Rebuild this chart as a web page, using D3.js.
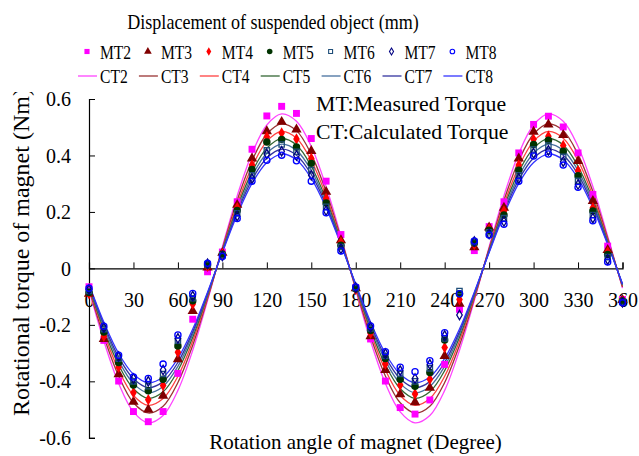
<!DOCTYPE html>
<html>
<head>
<meta charset="utf-8">
<script src="https://cdn.jsdelivr.net/npm/d3@7"></script>
<style>
body{margin:0;background:#fff;}
svg text{font-family:"Liberation Serif","Times New Roman",serif;fill:#000;}
</style>
</head>
<body>
<script>
// angles (degree) measured every 10 degrees
var angles = [0,10,20,30,40,50,60,70,80,90,100,110,120,130,140,150,160,170,180,190,200,210,220,230,240,250,260,270,280,290,300,310,320,330,340,350,360];

// measured torque (Nm)
var MT2 = [-0.065,-0.255,-0.399,-0.507,-0.543,-0.507,-0.372,-0.18,-0.012,0.058,0.236,0.422,0.540,0.574,0.549,0.46,0.309,0.12,-0.068,-0.25,-0.399,-0.493,-0.516,-0.466,-0.34,-0.145,0.063,0.148,0.236,0.409,0.51,0.539,0.501,0.409,0.262,0.079,-0.11];
var MT3 = [-0.09,-0.25,-0.375,-0.472,-0.50,-0.451,-0.322,-0.151,0.003,0.055,0.225,0.389,0.486,0.519,0.492,0.416,0.271,0.10,-0.07,-0.24,-0.36,-0.446,-0.474,-0.423,-0.31,-0.125,0.075,0.145,0.215,0.389,0.484,0.51,0.472,0.38,0.239,0.065,-0.112];
var MT4 = [-0.09,-0.24,-0.35,-0.44,-0.465,-0.415,-0.297,-0.126,0.008,0.052,0.215,0.366,0.466,0.48,0.458,0.389,0.248,0.093,-0.075,-0.23,-0.339,-0.413,-0.445,-0.393,-0.28,-0.11,0.085,0.14,0.203,0.366,0.457,0.468,0.435,0.346,0.215,0.058,-0.115];
var MT5 = [-0.085,-0.225,-0.333,-0.413,-0.433,-0.393,-0.275,-0.115,0.012,0.05,0.205,0.35,0.448,0.457,0.43,0.372,0.232,0.082,-0.072,-0.22,-0.319,-0.393,-0.417,-0.369,-0.254,-0.09,0.09,0.135,0.189,0.348,0.439,0.454,0.415,0.328,0.203,0.049,-0.115];
var MT6 = [-0.08,-0.215,-0.32,-0.40,-0.417,-0.374,-0.256,-0.106,0.014,0.047,0.195,0.33,0.418,0.439,0.413,0.348,0.218,0.076,-0.07,-0.213,-0.31,-0.374,-0.40,-0.354,-0.248,-0.08,0.093,0.128,0.178,0.33,0.421,0.435,0.395,0.31,0.189,0.04,-0.118];
var MT7 = [-0.075,-0.21,-0.312,-0.39,-0.40,-0.36,-0.248,-0.098,0.016,0.044,0.185,0.318,0.405,0.415,0.40,0.33,0.205,0.069,-0.068,-0.208,-0.302,-0.362,-0.39,-0.34,-0.238,-0.165,0.095,0.122,0.166,0.318,0.408,0.418,0.378,0.297,0.178,0.031,-0.12];
var MT8 = [-0.07,-0.205,-0.308,-0.385,-0.39,-0.339,-0.236,-0.089,0.018,0.042,0.177,0.309,0.383,0.401,0.381,0.309,0.197,0.062,-0.066,-0.204,-0.295,-0.35,-0.366,-0.327,-0.228,-0.09,0.097,0.118,0.156,0.309,0.398,0.405,0.366,0.287,0.169,0.023,-0.122];

// calculated torque (Nm) at the same angles
var CT2 = [-0.076,-0.257,-0.407,-0.508,-0.547,-0.521,-0.432,-0.290,-0.114,0.076,0.257,0.407,0.508,0.547,0.521,0.432,0.290,0.114,-0.076,-0.257,-0.407,-0.508,-0.547,-0.521,-0.432,-0.290,-0.114,0.076,0.257,0.407,0.508,0.547,0.521,0.432,0.290,0.114,-0.070];
var CT3 = [-0.071,-0.241,-0.381,-0.476,-0.512,-0.488,-0.404,-0.272,-0.107,0.071,0.241,0.381,0.476,0.512,0.488,0.404,0.272,0.107,-0.071,-0.241,-0.381,-0.476,-0.512,-0.488,-0.404,-0.272,-0.107,0.071,0.241,0.381,0.476,0.512,0.488,0.404,0.272,0.107,-0.066];
var CT4 = [-0.067,-0.227,-0.360,-0.450,-0.485,-0.461,-0.382,-0.257,-0.101,0.067,0.227,0.360,0.450,0.485,0.461,0.382,0.257,0.101,-0.067,-0.227,-0.360,-0.450,-0.485,-0.461,-0.382,-0.257,-0.101,0.067,0.227,0.360,0.450,0.485,0.461,0.382,0.257,0.101,-0.063];
var CT5 = [-0.064,-0.216,-0.342,-0.426,-0.460,-0.437,-0.362,-0.244,-0.096,0.064,0.216,0.342,0.426,0.460,0.437,0.362,0.244,0.096,-0.064,-0.216,-0.342,-0.426,-0.460,-0.437,-0.362,-0.244,-0.096,0.064,0.216,0.342,0.426,0.460,0.437,0.362,0.244,0.096,-0.060];
var CT6 = [-0.061,-0.206,-0.327,-0.408,-0.440,-0.418,-0.347,-0.233,-0.092,0.061,0.206,0.327,0.408,0.440,0.418,0.347,0.233,0.092,-0.061,-0.206,-0.327,-0.408,-0.440,-0.418,-0.347,-0.233,-0.092,0.061,0.206,0.327,0.408,0.440,0.418,0.347,0.233,0.092,-0.058];
var CT7 = [-0.059,-0.198,-0.314,-0.391,-0.422,-0.401,-0.333,-0.224,-0.088,0.059,0.198,0.314,0.391,0.422,0.401,0.333,0.224,0.088,-0.059,-0.198,-0.314,-0.391,-0.422,-0.401,-0.333,-0.224,-0.088,0.059,0.198,0.314,0.391,0.422,0.401,0.333,0.224,0.088,-0.056];
var CT8 = [-0.056,-0.190,-0.301,-0.375,-0.405,-0.385,-0.319,-0.215,-0.084,0.056,0.190,0.301,0.375,0.405,0.385,0.319,0.215,0.084,-0.056,-0.190,-0.301,-0.375,-0.405,-0.385,-0.319,-0.215,-0.084,0.056,0.190,0.301,0.375,0.405,0.385,0.319,0.215,0.084,-0.054];

var xTicks = [0,30,60,90,120,150,180,210,240,270,300,330,360];
var yTicks = [-0.6,-0.4,-0.2,0,0.2,0.4,0.6];

var mtNames = ["MT2","MT3","MT4","MT5","MT6","MT7","MT8"];
var ctNames = ["CT2","CT3","CT4","CT5","CT6","CT7","CT8"];
var mtData = [MT2,MT3,MT4,MT5,MT6,MT7,MT8];
var ctData = [CT2,CT3,CT4,CT5,CT6,CT7,CT8];

// marker styles for measured series
var mtStyle = [
  {type:d3.symbolSquare,   size:48, fill:"#ff00ff", stroke:"none"},
  {type:d3.symbolTriangle, size:46, fill:"#800000", stroke:"none"},
  {type:d3.symbolDiamond,  size:38, fill:"#ff0000", stroke:"none"},
  {type:d3.symbolCircle,   size:44, fill:"#003300", stroke:"none"},
  {type:d3.symbolSquare,   size:28, fill:"none",    stroke:"#1f4e79"},
  {type:d3.symbolDiamond,  size:26, fill:"none",    stroke:"#000080"},
  {type:d3.symbolCircle,   size:30, fill:"none",    stroke:"#0000ff"}
];
var ctColor = ["#ff44ff","#993333","#ff4040","#336633","#46709e","#3333a0","#3333ff"];

var width = 639, height = 456;
var svg = d3.select("body").append("svg")
            .attr("width", width)
            .attr("height", height)
            .attr("font-family", "'Liberation Serif', serif");

var x = d3.scaleLinear().domain([0,360]).range([89,622.5]);
var y = d3.scaleLinear().domain([-0.6,0.6]).range([437.8,99]);

//title (the original type is narrow, so squeeze it)
svg.append("text")
   .attr("transform","translate(273,28.5) scale(0.88,1)")
   .attr("text-anchor","middle")
   .style("font-size","20.5px")
   .text("Displacement of suspended object (mm)");

//legend, row 1 markers and row 2 lines
var legX = 87, legStep = 60.9;
mtNames.forEach(function(n,i){
  var s = mtStyle[i];
  svg.append("path")
     .attr("d", d3.symbol().type(s.type).size(s.size*0.55)())
     .attr("transform","translate("+(legX+i*legStep)+",51.5)")
     .style("fill", s.fill)
     .style("stroke", s.stroke)
     .style("stroke-width", 1.1);
  svg.append("text")
     .attr("transform","translate("+(legX+13+i*legStep)+",58.5) scale(0.82,1)")
     .style("font-size","19px")
     .text(n);
});
ctNames.forEach(function(n,i){
  svg.append("line")
     .attr("x1", legX-9+i*legStep).attr("x2", legX+10+i*legStep)
     .attr("y1", 76).attr("y2", 76)
     .style("stroke", ctColor[i])
     .style("stroke-width", 1.3);
  svg.append("text")
     .attr("transform","translate("+(legX+13+i*legStep)+",83) scale(0.82,1)")
     .style("font-size","19px")
     .text(n);
});

//axes
var yAxis = d3.axisLeft(y).tickValues(yTicks).tickSize(-6).tickPadding(18)
              .tickFormat(function(d){ return d===0 ? "0" : d3.format(".1f")(d).replace("−","-"); });
var gy = svg.append("g").attr("transform","translate("+x(0)+",0)").call(yAxis)
            .attr("font-family", null).attr("font-size", null);
gy.selectAll("text").style("font-size","20px").attr("dy","0.33em");

var xAxis = d3.axisBottom(x).tickValues(xTicks).tickSize(-6).tickPadding(0);
var gx = svg.append("g").attr("transform","translate(0,"+y(0)+")").call(xAxis)
            .attr("font-family", null).attr("font-size", null);
gx.selectAll("text").style("font-size","20px").attr("y", 38.6).attr("dy", 0);

svg.selectAll(".domain").style("stroke","#000").style("stroke-width",1.2);
svg.selectAll(".tick line").style("stroke","#000").style("stroke-width",1);

//calculated curves
var line = d3.line()
  .x(function(d,i){ return x(angles[i]); })
  .y(function(d){ return y(d); })
  .curve(d3.curveCatmullRom.alpha(0.5));

svg.append("g").selectAll(".ct")
   .data(ctData)
   .enter().append("path")
   .attr("class","ct")
   .attr("d", function(d){ return line(d); })
   .style("fill","none")
   .style("stroke", function(d,i){ return ctColor[i]; })
   .style("stroke-width", 1.3);

//measured points
mtData.forEach(function(series,k){
  var s = mtStyle[k];
  svg.append("g").selectAll(".mt"+k)
     .data(series)
     .enter().append("path")
     .attr("d", d3.symbol().type(s.type).size(s.size)())
     .attr("transform", function(d,i){ return "translate("+x(angles[i])+","+y(d)+")"; })
     .style("fill", s.fill)
     .style("stroke", s.stroke)
     .style("stroke-width", 1.3);
});

//notes
svg.append("text").attr("x",316).attr("y",110.5).style("font-size","21.8px").text("MT:Measured Torque");
svg.append("text").attr("x",316).attr("y",139).style("font-size","21.8px").text("CT:Calculated Torque");

//axis titles
svg.append("text")
   .attr("x", 355.5).attr("y", 449)
   .attr("text-anchor","middle")
   .style("font-size","21px")
   .text("Rotation angle of magnet (Degree)");

svg.append("clipPath").attr("id","ylab")
   .append("rect").attr("x",0).attr("y",92).attr("width",60).attr("height",360);
svg.append("g").attr("clip-path","url(#ylab)")
   .append("text")
   .attr("transform","translate(29,416) rotate(-90)")
   .style("font-size","24px")
   .text("Rotational torque of magnet (Nm)");
</script>
</body>
</html>
